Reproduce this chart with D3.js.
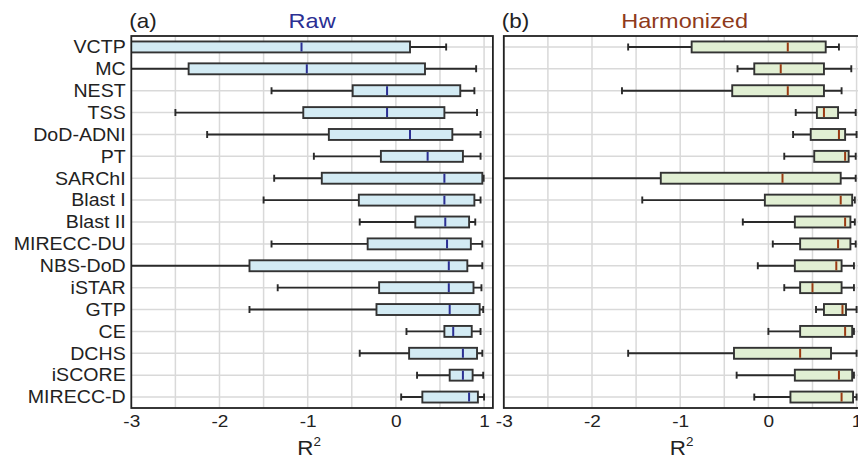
<!DOCTYPE html>
<html>
<head>
<meta charset="utf-8">
<script src="https://cdn.jsdelivr.net/npm/d3@7"></script>
<style>
  html, body { margin: 0; padding: 0; background: #fff; }
  text { font-family: "Liberation Sans", Arial, Helvetica, sans-serif; }
</style>
</head>
<body>
<svg id="chart" width="858" height="460"></svg>
<script>
// ---- data ----
const categories = ["VCTP","MC","NEST","TSS","DoD-ADNI","PT","SARChI","Blast I","Blast II",
  "MIRECC-DU","NBS-DoD","iSTAR","GTP","CE","DCHS","iSCORE","MIRECC-D"];
const xTicks = [-3, -2, -1, 0, 1];
const panelTitles = ["Raw", "Harmonized"];
const panelLetters = ["(a)", "(b)"];

// Raw: five-number summaries
const rawMin    = [-3.8, -3.6, -1.41, -2.50, -2.14, -0.93, -1.38, -1.50, -0.41, -1.41, -4.0, -1.34, -1.66, 0.12, -0.41, 0.24, 0.06];
const rawQ1     = [-3.2, -2.35, -0.49, -1.05, -0.76, -0.17, -0.84, -0.42, 0.22, -0.32, -1.66, -0.19, -0.22, 0.55, 0.15, 0.61, 0.30];
const rawMedian = [-1.07, -1.01, -0.10, -0.10, 0.16, 0.36, 0.55, 0.55, 0.56, 0.58, 0.60, 0.60, 0.61, 0.65, 0.76, 0.76, 0.83];
const rawQ3     = [0.16, 0.33, 0.73, 0.55, 0.64, 0.76, 0.98, 0.89, 0.83, 0.85, 0.81, 0.88, 0.95, 0.86, 0.92, 0.87, 0.93];
const rawMax    = [0.57, 0.91, 0.89, 0.92, 0.96, 0.96, 0.995, 0.96, 0.90, 0.98, 0.98, 0.97, 0.99, 0.96, 0.98, 0.99, 1.0];

// Harmonized: five-number summaries
const harMin    = [-1.59, -0.35, -1.66, 0.31, 0.28, 0.18, -3.4, -1.43, -0.29, 0.05, -0.12, 0.18, 0.54, 0.0, -1.59, -0.36, -0.16];
const harQ1     = [-0.87, -0.16, -0.41, 0.55, 0.48, 0.52, -1.22, -0.04, 0.30, 0.36, 0.30, 0.36, 0.63, 0.36, -0.39, 0.30, 0.25];
const harMedian = [0.22, 0.14, 0.22, 0.63, 0.80, 0.87, 0.16, 0.82, 0.87, 0.79, 0.77, 0.50, 0.84, 0.87, 0.36, 0.80, 0.83];
const harQ3     = [0.65, 0.63, 0.63, 0.79, 0.87, 0.91, 0.82, 0.95, 0.93, 0.93, 0.83, 0.83, 0.88, 0.95, 0.71, 0.95, 0.96];
const harMax    = [0.80, 0.94, 0.83, 0.99, 1.0, 0.99, 0.99, 0.98, 0.98, 0.99, 0.97, 0.97, 1.0, 0.97, 1.0, 0.97, 1.0];

// ---- layout ----
const svg = d3.select("#chart");
const SX = 1.12; // horizontal text stretch to match reference typography
const plotTop = 36, plotBottom = 408;
const panels = [
  { left: 131.3, right: 492.9, min: rawMin, q1: rawQ1, med: rawMedian, q3: rawQ3, max: rawMax,
    fill: "#d3ebf4", medColor: "#2b2f93", titleColor: "#2b2f93", labels: true },
  { left: 503.8, right: 865.4, min: harMin, q1: harQ1, med: harMedian, q3: harQ3, max: harMax,
    fill: "#e1efd3", medColor: "#9a3a12", titleColor: "#8e3a1c", labels: false }
];

const y = d3.scaleBand().domain(categories).range([plotTop, plotBottom]).paddingInner(0).paddingOuter(0);
const bh = y.bandwidth() * 0.5;
const capH = 7;
const sw = 1.9;

panels.forEach((p, pi) => {
  const x = d3.scaleLinear().domain([-3, 1.1]).range([p.left, p.right]);
  const g = svg.append("g");
  const clipId = "clip" + pi;
  svg.append("clipPath").attr("id", clipId).append("rect")
    .attr("x", p.left).attr("y", plotTop).attr("width", p.right - p.left).attr("height", plotBottom - plotTop);

  // gridlines
  const grid = g.append("g").attr("clip-path", `url(#${clipId})`);
  const gx = d3.range(-3, 1.01, 0.5);
  grid.selectAll("line.vx").data(gx).join("line")
    .attr("x1", d => x(d)).attr("x2", d => x(d))
    .attr("y1", plotTop).attr("y2", plotBottom)
    .attr("stroke", "#d9d9d9").attr("stroke-width", 1.5);
  grid.selectAll("line.hy").data(categories).join("line")
    .attr("x1", p.left).attr("x2", p.right)
    .attr("y1", d => y(d) + y.bandwidth() / 2).attr("y2", d => y(d) + y.bandwidth() / 2)
    .attr("stroke", "#d9d9d9").attr("stroke-width", 1.5);

  // boxes
  const rows = categories.map((c, i) => ({ c, min: p.min[i], q1: p.q1[i], med: p.med[i], q3: p.q3[i], max: p.max[i] }));
  const bx = g.append("g").attr("clip-path", `url(#${clipId})`);
  const rg = bx.selectAll("g.row").data(rows).join("g")
    .attr("transform", d => `translate(0,${y(d.c) + y.bandwidth() / 2})`);
  rg.append("line").attr("x1", d => x(d.min)).attr("x2", d => x(d.q1)).attr("y1", 0).attr("y2", 0)
    .attr("stroke", "#2a2a2a").attr("stroke-width", sw);
  rg.append("line").attr("x1", d => x(d.q3)).attr("x2", d => x(d.max)).attr("y1", 0).attr("y2", 0)
    .attr("stroke", "#2a2a2a").attr("stroke-width", sw);
  rg.append("line").attr("x1", d => x(d.min)).attr("x2", d => x(d.min)).attr("y1", -capH / 2).attr("y2", capH / 2)
    .attr("stroke", "#2a2a2a").attr("stroke-width", sw);
  rg.append("line").attr("x1", d => x(d.max)).attr("x2", d => x(d.max)).attr("y1", -capH / 2).attr("y2", capH / 2)
    .attr("stroke", "#2a2a2a").attr("stroke-width", sw);
  rg.append("rect").attr("x", d => x(d.q1)).attr("width", d => x(d.q3) - x(d.q1))
    .attr("y", -bh / 2).attr("height", bh)
    .attr("fill", p.fill).attr("stroke", "#333").attr("stroke-width", sw);
  rg.append("line").attr("x1", d => x(d.med)).attr("x2", d => x(d.med)).attr("y1", -bh / 2 + 1).attr("y2", bh / 2 - 1)
    .attr("stroke", p.medColor).attr("stroke-width", 2);

  // frame
  g.append("rect").attr("x", p.left).attr("y", plotTop).attr("width", p.right - p.left).attr("height", plotBottom - plotTop)
    .attr("fill", "none").attr("stroke", "#222").attr("stroke-width", 1.8);

  // x axis
  const xa = g.append("g").attr("transform", `translate(0,${plotBottom})`)
    .call(d3.axisBottom(x).tickValues(xTicks).tickSize(0).tickPadding(7).tickFormat(d => d < 0 ? "-" + Math.abs(d) : String(d)));
  xa.select(".domain").remove();
  xa.selectAll("text").attr("font-size", 17).attr("fill", "#222")
    .attr("font-family", "'Liberation Sans', Arial, sans-serif")
    .attr("transform", `scale(${SX},1)`);

  // x axis title R^2
  const xt = g.append("text")
    .attr("transform", `translate(${(p.left + p.right) / 2 - 3},455) scale(${SX},1)`)
    .attr("text-anchor", "middle").attr("font-size", 20).attr("fill", "#222");
  xt.append("tspan").text("R");
  xt.append("tspan").attr("font-size", 12).attr("dy", -9).text("2");

  // y axis labels
  if (p.labels) {
    const ya = g.append("g").attr("transform", `translate(${p.left},0)`)
      .call(d3.axisLeft(y).tickSize(0).tickPadding(5));
    ya.select(".domain").remove();
    ya.selectAll("text").attr("font-size", 17.5).attr("fill", "#222")
      .attr("font-family", "'Liberation Sans', Arial, sans-serif")
      .attr("transform", `scale(${SX},1)`).attr("dy", "0.36em");
  }

  // panel letter & title
  g.append("text").attr("transform", `translate(${p.left - 2},28) scale(${SX},1)`)
    .attr("font-size", 20).attr("fill", "#222").text(panelLetters[pi]);
  g.append("text").attr("transform", `translate(${(p.left + p.right) / 2},28) scale(${SX},1)`)
    .attr("text-anchor", "middle").attr("font-size", 21).attr("fill", p.titleColor).text(panelTitles[pi]);
});
</script>
</body>
</html>
